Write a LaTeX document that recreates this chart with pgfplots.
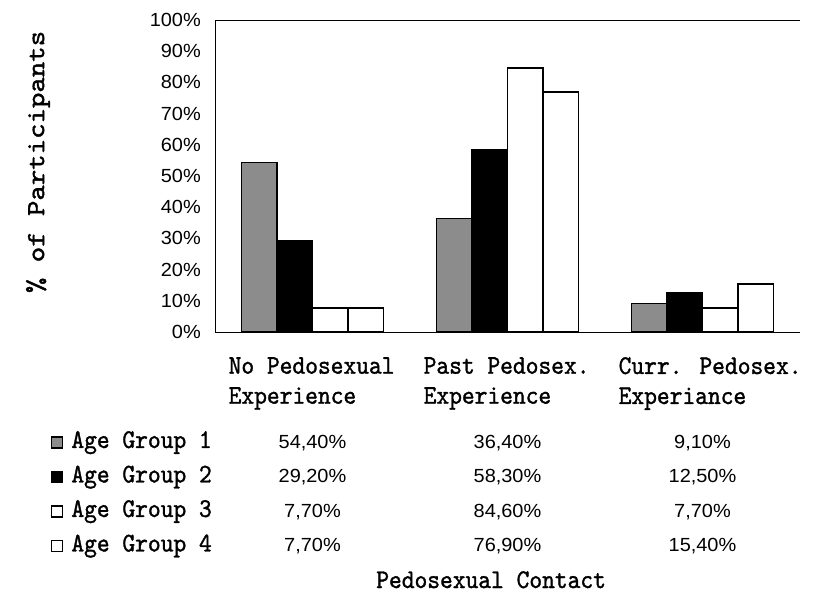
\documentclass[border=0pt]{standalone}
\usepackage{pgfplots}
\usepackage{pgfplotstable}
\pgfplotsset{compat=1.18}
\usepackage{fontspec}
\setmainfont{Liberation Serif}
\newfontfamily\typfamily{lmmono10-regular}[Extension=.otf, FakeStretch=0.9, FakeBold=1.2]
\newfontfamily\courfamily{lmmono10-regular}[Extension=.otf, FakeStretch=1.13, FakeBold=1.5]
\newfontfamily\arialfamily{Liberation Sans}[FakeStretch=1.05]
\newcommand\typ{\typfamily\fontsize{27bp}{30bp}\selectfont}
\newcommand\cour{\courfamily\fontsize{26bp}{28bp}\selectfont}
\newcommand\arl{\arialfamily\fontsize{19bp}{21bp}\selectfont}

% percentages per category (rows) and age group (columns)
\pgfplotstableread{
cat g1 g2 g3 g4
0 54.4 29.2 7.7 7.7
1 36.4 58.3 84.6 76.9
2 9.1 12.5 7.7 15.4
}\data

\begin{document}
\begin{tikzpicture}
\useasboundingbox (-215bp,-269bp) rectangle (598bp,332bp);
\begin{axis}[
    scale only axis, width=585bp, height=312bp,
    at={(0,0)}, anchor=south west,
    ybar=0pt, bar width=35.5bp,
    xmin=-0.5, xmax=2.5, ymin=0, ymax=100,
    axis x line=box, axis y line=left,
    axis line style={line width=0.8bp, -},
    major tick length=0pt,
    xtick={0,1,2},
    xticklabels={{No Pedosexual\\Experience},{Past Pedosex.\\Experience},{Curr. Pedosex.\\Experiance}},
    xticklabel style={font=\typ, align=left, anchor=north west, inner sep=0pt, xshift=-84bp, yshift=-25bp},
    ytick={0,10,...,100},
    yticklabel={\pgfmathprintnumber{\tick}\%},
    yticklabel style={font=\arl, inner sep=0pt, xshift=-14bp},
    /pgf/number format/assume math mode=true,
    ylabel={\% of Participants},
    ylabel style={font=\cour, at={(axis description cs:-0.3026,0.545)}, anchor=center},
    xlabel={Pedosexual Contact},
    xlabel style={font=\typ, at={(axis description cs:0.472,-0.8205)}, anchor=base},
    clip=false,
    legend style={draw=none, fill=none, inner sep=0pt, outer sep=0pt,
        at={(axis description cs:-0.2803,-0.314)}, anchor=north west,
        font=\typ, nodes={inner sep=0pt, text height=18bp, text depth=7bp},
        row sep=9.5bp, column sep=8bp},
    legend cell align=left,
    legend image code/.code={\draw[#1] (0bp,-5.5bp) rectangle (11bp,5.5bp);},
]
\addplot[draw=black, line width=1.4bp, fill=black!45] table[x=cat,y=g1]{\data};
\addplot[draw=black, line width=1.4bp, fill=black] table[x=cat,y=g2]{\data};
\addplot[draw=black, line width=1.4bp, fill=white] table[x=cat,y=g3]{\data};
\addplot[draw=black, line width=1.4bp, fill=white] table[x=cat,y=g4]{\data};
\legend{Age Group 1, Age Group 2, Age Group 3, Age Group 4}

% data table under the chart
\foreach \r in {0,1,2} {
  \foreach \c/\yy in {1/-37.2, 2/-48.2, 3/-59.3, 4/-70.4} {
    \pgfplotstablegetelem{\r}{g\c}\of\data
    \edef\tmp{\noexpand\node[font=\noexpand\arl, anchor=base] at (axis cs:\r,\yy)
      {\noexpand\pgfmathprintnumber[fixed, precision=2, zerofill, use comma]{\pgfplotsretval}\noexpand\%};}
    \tmp
  }
}
\end{axis}
\end{tikzpicture}
\end{document}
